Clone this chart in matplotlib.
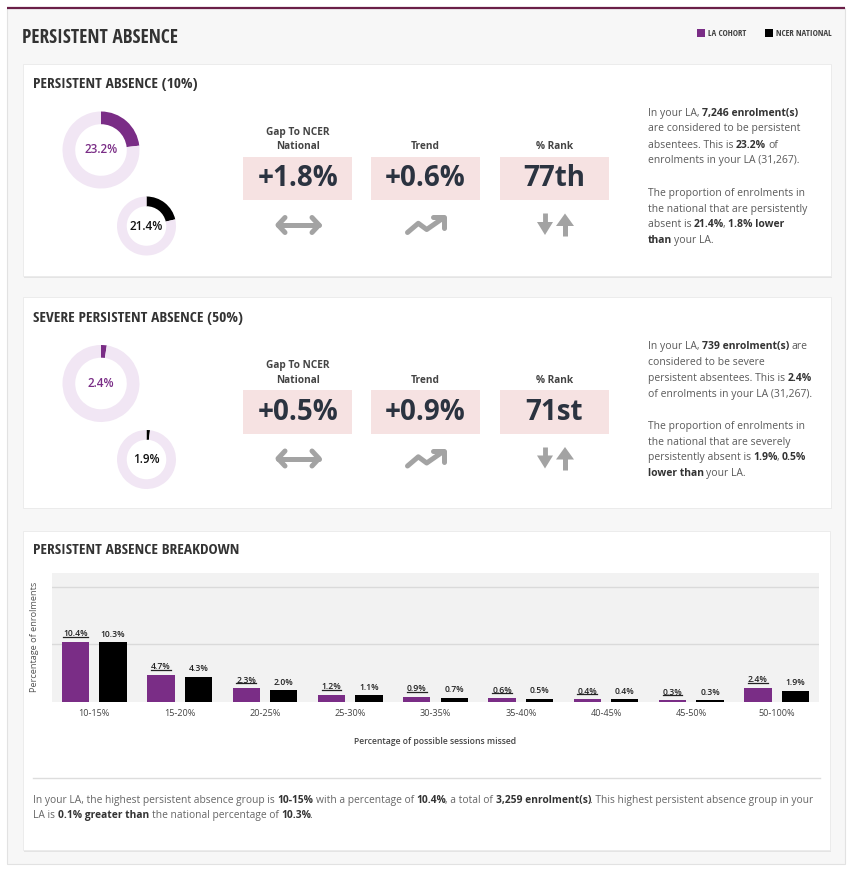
import matplotlib
matplotlib.use('Agg')
import matplotlib.pyplot as plt
from matplotlib import font_manager
from matplotlib.patches import Rectangle, Polygon
from matplotlib.lines import Line2D
import numpy as np

W, H = 851, 871

# ---- data ----
groups = ['10-15%', '15-20%', '20-25%', '25-30%', '30-35%',
          '35-40%', '40-45%', '45-50%', '50-100%']
la_cohort = [10.4, 4.7, 2.3, 1.2, 0.9, 0.6, 0.4, 0.3, 2.4]
ncer_national = [10.3, 4.3, 2.0, 1.1, 0.7, 0.5, 0.4, 0.3, 1.9]

card_titles = ['PERSISTENT ABSENCE (10%)', 'SEVERE PERSISTENT ABSENCE (50%)']
donut_la = [23.2, 2.4]
donut_national = [21.4, 1.9]
kpi_labels = ['Gap To NCER\nNational', 'Trend', '% Rank']
kpi_values = [['+1.8%', '+0.6%', '77th'],
              ['+0.5%', '+0.9%', '71st']]

card_text = [
    [[('In your LA, ', 0), ('7,246 enrolment(s)', 1)],
     [('are considered to be persistent', 0)],
     [('absentees. This is ', 0), ('23.2%', 1), (' of', 0)],
     [('enrolments in your LA (31,267).', 0)],
     [('The proportion of enrolments in', 0)],
     [('the national that are persistently', 0)],
     [('absent is ', 0), ('21.4%', 1), (', ', 0), ('1.8% lower', 1)],
     [('than', 1), (' your LA.', 0)]],
    [[('In your LA, ', 0), ('739 enrolment(s)', 1), (' are', 0)],
     [('considered to be severe', 0)],
     [('persistent absentees. This is ', 0), ('2.4%', 1)],
     [('of enrolments in your LA (31,267).', 0)],
     [('The proportion of enrolments in', 0)],
     [('the national that are severely', 0)],
     [('persistently absent is ', 0), ('1.9%', 1), (', ', 0), ('0.5%', 1)],
     [('lower than', 1), (' your LA.', 0)]],
]

summary_text = [
    [('In your LA, the highest persistent absence group is ', 0), ('10-15%', 1),
     (' with a percentage of ', 0), ('10.4%', 1), (', a total of ', 0),
     ('3,259 enrolment(s)', 1), ('. This highest persistent absence group in your', 0)],
    [('LA is ', 0), ('0.1% greater than', 1), (' the national percentage of ', 0),
     ('10.3%', 1), ('.', 0)],
]

# ---- style ----
PURPLE = '#7a2d86'
RING = '#f1e6f4'
MAROON = '#6a1f48'
KPI_BG = '#f6e2e2'
ICON = '#a3a3a3'
TEXT = '#5a5a5a'
DARK = '#333333'

plt.rcParams['font.family'] = ['Open Sans', 'DejaVu Sans']

names = {f.name for f in font_manager.fontManager.ttflist}
COND, cscale = 'Open Sans', 0.8
for cand in ['Open Sans Condensed', 'Liberation Sans Narrow', 'Roboto Condensed']:
    if cand in names:
        COND, cscale = cand, 1.0
        break

fig = plt.figure(figsize=(W / 100, H / 100), dpi=100)
bg = fig.add_axes([0, 0, 1, 1])
bg.set_xlim(0, W)
bg.set_ylim(H, 0)
bg.axis('off')
renderer = fig.canvas.get_renderer()

_space = {}


def space_width(size, weight):
    key = (size, weight)
    if key not in _space:
        a = bg.text(0, 0, 'n n', fontsize=size, fontweight=weight)
        b = bg.text(0, 0, 'nn', fontsize=size, fontweight=weight)
        _space[key] = a.get_window_extent(renderer).width - b.get_window_extent(renderer).width
        a.remove()
        b.remove()
    return _space[key]


def draw_runs(x, y, parts, size, color=TEXT, bold_color=DARK):
    # text with bold pieces, placed run after run
    for n, (txt, bold) in enumerate(parts):
        weight = 'bold' if bold else 'normal'
        sp = space_width(size, weight)
        core = txt.strip(' ')
        x += (len(txt) - len(txt.lstrip(' '))) * sp
        t = bg.text(x, y, core, fontsize=size, fontweight=weight,
                    color=bold_color if bold else color, ha='left', va='center')
        x += t.get_window_extent(renderer).width
        x += (len(txt) - len(txt.rstrip(' '))) * sp
        if n + 1 < len(parts) and parts[n + 1][0][:1] in ',.':
            x -= 1.5


def card(x, y, w, h):
    bg.add_patch(Rectangle((x + 1, y + 1.5), w, h, fc='#e4e4e4', ec='none'))
    bg.add_patch(Rectangle((x, y), w, h, fc='white', ec='#eaeaea', lw=0.6))


def donut(cx, cy, r, value, color, lcolor):
    ax = fig.add_axes([(cx - r) / W, 1 - (cy + r) / H, 2 * r / W, 2 * r / H])
    ax.pie([value, 100 - value], colors=[color, RING], startangle=90,
           counterclock=False, wedgeprops=dict(width=0.33, edgecolor='none'))
    ax.set_xlim(-1, 1)
    ax.set_ylim(-1, 1)
    ax.text(0, 0, f'{value:.1f}%', ha='center', va='center', fontsize=8.4,
            fontweight='semibold', color=lcolor)


def icons(dy):
    kw = dict(color=ICON, lw=3.6, solid_capstyle='round', solid_joinstyle='round')
    yc = 225 + dy
    # gap: double arrow
    bg.plot([278, 319], [yc, yc], **kw)
    bg.plot([285, 278, 285], [yc - 7.5, yc, yc + 7.5], **kw)
    bg.plot([312, 319, 312], [yc - 7.5, yc, yc + 7.5], **kw)
    # trend: zigzag arrow
    bg.plot([407.5, 418.3, 426.7, 442.5], np.array([232.5, 223.3, 229.5, 218.5]) + dy, **kw)
    bg.plot([433, 444, 444], np.array([217.5, 217.5, 228.5]) + dy, **kw)
    # rank: down / up arrows
    bg.plot([545, 545], [213 + dy, 224 + dy], color=ICON, lw=3.5, solid_capstyle='butt')
    bg.add_patch(Polygon([[537, 222 + dy], [553, 222 + dy], [545, 235 + dy]], fc=ICON, ec='none'))
    bg.plot([565, 565], [236 + dy, 224 + dy], color=ICON, lw=3.6, solid_capstyle='butt')
    bg.add_patch(Polygon([[556, 226 + dy], [574, 226 + dy], [565, 213.5 + dy]], fc=ICON, ec='none'))


# ---- page ----
bg.add_patch(Rectangle((7, 8), 838, 856, fc='#f7f7f7', ec='#e2e2e2', lw=0.8))
bg.plot([7, 845], [8, 8], color=MAROON, lw=1.6, solid_capstyle='butt')
bg.text(22, 38, 'PERSISTENT ABSENCE', fontsize=13.9 * cscale, fontweight='bold',
        family=COND, color=DARK, ha='left', va='center')
bg.add_patch(Rectangle((697, 29), 7.5, 8, fc=PURPLE, ec='none'))
bg.text(708, 33, 'LA COHORT', fontsize=6.4 * cscale, family=COND, color='#444444', va='center')
bg.add_patch(Rectangle((765, 29), 7.5, 8, fc='black', ec='none'))
bg.text(776, 33, 'NCER NATIONAL', fontsize=6.4 * cscale, family=COND, color='#444444', va='center')

card(22.5, 64, 808.5, 212.5)
card(22.5, 296.5, 808.5, 211)
card(22.5, 531, 807, 319)

# ---- the two KPI cards ----
box_x = [243.3, 371, 500]
line_y = [113.3, 129, 145, 160.7, 193.3, 209, 224.3, 240]
for i in range(2):
    dy = 233.5 * i
    bg.text(33, 84 + dy, card_titles[i], fontsize=11.1 * cscale, fontweight='bold',
            family=COND, color=DARK, va='center')
    donut(101, 150 + dy, 38.5, donut_la[i], PURPLE, PURPLE)
    donut(146.5, 226 + dy, 29.5, donut_national[i], 'black', '#111111')
    for j in range(3):
        cx = box_x[j] + 54.5
        for k, ln in enumerate(reversed(kpi_labels[j].split('\n'))):
            bg.text(cx, 146.5 + dy - 14.5 * k, ln, fontsize=7.3, fontweight='bold',
                    color='#444444', ha='center', va='center')
        bg.add_patch(Rectangle((box_x[j], 156.7 + dy), 109, 43.3, fc=KPI_BG, ec='none'))
        bg.text(cx, 179 + dy, kpi_values[i][j], fontsize=20, fontweight='bold',
                color='#2b3340', ha='center', va='center')
    icons(dy)
    for ly, parts in zip(line_y, card_text[i]):
        draw_runs(647.5, ly + dy, parts, 7.5)

# ---- breakdown chart ----
bg.text(33, 550, 'PERSISTENT ABSENCE BREAKDOWN', fontsize=11.1 * cscale, fontweight='bold',
        family=COND, color=DARK, va='center')

bx = fig.add_axes([51.7 / W, 1 - 701.7 / H, (819.3 - 51.7) / W, (701.7 - 572.7) / H])
x = np.arange(len(groups))
bx.bar(x - 0.22, la_cohort, 0.32, color=PURPLE, zorder=3)
bx.bar(x + 0.22, ncer_national, 0.32, color='black', zorder=3)
bx.set_facecolor('#f2f2f2')
for s in bx.spines.values():
    s.set_visible(False)
bx.set_yticks([10, 20])
bx.set_yticklabels([])
bx.tick_params(axis='y', length=0)
bx.grid(axis='y', color='#dadada', lw=1)
bx.set_axisbelow(True)
bx.set_xticks(x, groups)
bx.tick_params(axis='x', length=0, pad=5, labelsize=6.6, labelcolor='#444444')
bx.set_xlabel('Percentage of possible sessions missed', fontsize=6.2,
              fontweight='semibold', color='#444444', labelpad=14)
bx.set_ylabel('Percentage of enrolments', fontsize=6.6, color='#555555', labelpad=6)

la_labels = []
for xi, v in zip(x, la_cohort):
    la_labels.append(bx.annotate(f'{v:.1f}%', (xi - 0.22, v), xytext=(0, 2.5),
                                 textcoords='offset points', ha='center', va='bottom',
                                 fontsize=6.2, fontweight='semibold', color='#222222'))
for xi, v in zip(x, ncer_national):
    bx.annotate(f'{v:.1f}%', (xi + 0.22, v), xytext=(0, 2.5), textcoords='offset points',
                ha='center', va='bottom', fontsize=6.2, fontweight='semibold', color='#222222')
bx.set_xlim(-0.5, 8.5)
bx.set_ylim(0, 22.4)

# underline the LA cohort value labels
for t in la_labels:
    bb = t.get_window_extent(renderer)
    yu = (bb.y0 + 1.5) / H
    fig.add_artist(Line2D([bb.x0 / W, bb.x1 / W], [yu, yu], transform=fig.transFigure,
                          color='#222222', lw=0.9))

bg.plot([33, 820], [778.3, 778.3], color='#dddddd', lw=1)
draw_runs(33, 800, summary_text[0], 7.4, color='#666666')
draw_runs(33, 815, summary_text[1], 7.4, color='#666666')

fig.savefig('out.png', dpi=100)
